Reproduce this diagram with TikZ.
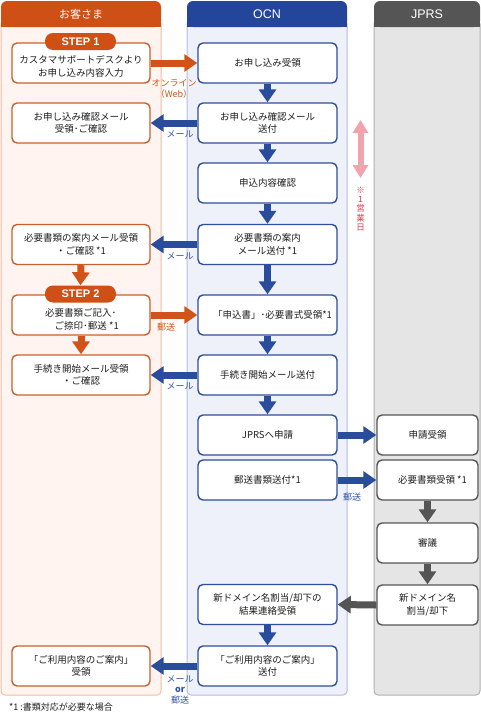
\documentclass[tikz,border=0pt]{standalone}
\usepackage{fontspec}
\setmainfont{Noto Sans CJK JP}
\newfontfamily\latinfont{Liberation Sans}
\usetikzlibrary{arrows.meta}
\definecolor{cOr}{HTML}{CF5016}
\definecolor{cLfill}{HTML}{FFF4EF}
\definecolor{cLborder}{HTML}{F0BCA4}
\definecolor{cLbox}{HTML}{C8602E}
\definecolor{cOarr}{HTML}{D0541A}
\definecolor{cBl}{HTML}{23469A}
\definecolor{cOfill}{HTML}{EEF0FA}
\definecolor{cOborder}{HTML}{B4BBE0}
\definecolor{cObox}{HTML}{2F4F9C}
\definecolor{cBarr}{HTML}{2A4C9C}
\definecolor{cBtxt}{HTML}{3355A5}
\definecolor{cGr}{HTML}{555555}
\definecolor{cJfill}{HTML}{E5E5E5}
\definecolor{cJborder}{HTML}{B0B0B0}
\definecolor{cGarr}{HTML}{555555}
\definecolor{cPink}{HTML}{F2A3AB}
\definecolor{cRed}{HTML}{E8384F}
\definecolor{cTxt}{HTML}{1E1E1E}
\begin{document}
\begin{tikzpicture}[x=1pt,y=-1pt,
  box/.style={rounded corners=5pt, line width=1.4pt, fill=white, minimum height=40pt, inner sep=0pt, align=center, font=\fontsize{9.5}{12.5}\selectfont, text=cTxt},
  lbox/.style={box, draw=cLbox, minimum width=138pt},
  obox/.style={box, draw=cObox, minimum width=139pt},
  jbox/.style={box, draw=cGr, minimum width=101pt},
  boxtxt/.style={inner sep=0pt, align=center, font=\fontsize{9.5}{13}\selectfont, text=cTxt},
  arr/.style={line width=7pt, -{Triangle[width=17pt,length=13pt]}},
  oarr/.style={arr, draw=cOarr},
  barr/.style={arr, draw=cBarr},
  garr/.style={arr, draw=cGarr},
  parr/.style={line width=6pt, draw=cPink, {Triangle[width=15pt,length=13pt]}-{Triangle[width=15pt,length=13pt]}},
  lab/.style={font=\fontsize{9}{10.5}\selectfont, inner sep=0pt, align=center},
  hdr/.style={text=white, font=\latinfont\fontsize{12.5}{14}\selectfont, inner sep=0pt},
  steppill/.style={fill=cOr, rounded corners=8pt, minimum width=71pt, minimum height=17pt, inner sep=0pt, text=white, font=\latinfont\bfseries\fontsize{11}{13}\selectfont}
]
\useasboundingbox (0,0) rectangle (481,720);
\fill[white] (0,0) rectangle (481,720);

% columns
\path[fill=cLfill, draw=cLborder, line width=1pt, rounded corners=4pt] (1,20) -- (1,695) -- (161,695) -- (161,20) -- cycle;
\fill[cOr, rounded corners=6pt] (1,1) rectangle (161,27);
\fill[cOr] (1,15) rectangle (161,27);
\path[fill=cOfill, draw=cOborder, line width=1pt, rounded corners=4pt] (187,20) -- (187,695) -- (347,695) -- (347,20) -- cycle;
\fill[cBl, rounded corners=6pt] (187,1) rectangle (347,27);
\fill[cBl] (187,15) rectangle (347,27);
\path[fill=cJfill, draw=cJborder, line width=1pt, rounded corners=4pt] (374,20) -- (374,695) -- (480,695) -- (480,20) -- cycle;
\fill[cGr, rounded corners=6pt] (374,1) rectangle (480,27);
\fill[cGr] (374,15) rectangle (480,27);

\node[hdr, font=\fontsize{11}{13}\selectfont] (h1) at (81,14) {お客さま};
\node[hdr] (h2) at (267,14) {OCN};
\node[hdr] (h3) at (427,14) {JPRS};

% left boxes
\node[lbox] (l1) at (81,63) {};
\node[boxtxt] (l1t) at (81,66) {カスタマサポートデスクより\\お申し込み内容入力};
\node[lbox] (l2) at (81,123) {お申し込み確認メール\\受領･ご確認};
\node[lbox] (l3) at (81,244.5) {必要書類の案内メール受領\\・ご確認 *1};
\node[lbox] (l4) at (81,315) {};
\node[boxtxt, align=left] (l4t) at (82,319.5) {必要書類ご記入･\\\hspace*{9.5pt}ご捺印･郵送 *1};
\node[lbox] (l5) at (81,375) {手続き開始メール受領\\・ご確認};
\node[lbox] (l6) at (81,666) {「ご利用内容のご案内」\\受領};

% OCN boxes
\node[obox] (o1) at (267.5,63) {お申し込み受領};
\node[obox] (o2) at (267.5,123) {お申し込み確認メール\\送付};
\node[obox] (o3) at (267.5,183) {申込内容確認};
\node[obox] (o4) at (267.5,244.5) {必要書類の案内\\メール送付 *1};
\node[obox] (o5) at (267.5,315) {\hspace*{10pt}「申込書」･必要書式受領*1};
\node[obox] (o6) at (267.5,375) {手続き開始メール送付};
\node[obox] (o7) at (267.5,435) {JPRSへ申請};
\node[obox] (o8) at (267.5,480) {郵送書類送付*1};
\node[obox] (o9) at (267.5,604.5) {新ドメイン名割当/却下の\\結果連絡受領};
\node[obox] (o10) at (267.5,666) {「ご利用内容のご案内」\\送付};

% JPRS boxes
\node[jbox] (j1) at (427.5,435) {申請受領};
\node[jbox] (j2) at (427.5,480) {\hspace*{10pt}必要書類受領 *1};
\node[jbox] (j3) at (427.5,543) {審議};
\node[jbox] (j4) at (427.5,605) {新ドメイン名\\割当/却下};

% step pills
\node[steppill] (s1) at (80.5,41.5) {STEP 1};
\node[steppill] (s2) at (80.5,294) {STEP 2};

% arrows left column
\draw[oarr] (l3.south) -- (s2.north);
\draw[oarr] (l4.south) -- (l5.north);
% arrows OCN column
\draw[barr] (o1.south) -- (o2.north);
\draw[barr] (o2.south) -- (o3.north);
\draw[barr] (o3.south) -- (o4.north);
\draw[barr] (o4.south) -- (o5.north);
\draw[barr] (o5.south) -- (o6.north);
\draw[barr] (o6.south) -- (o7.north);
\draw[barr] (o9.south) -- (o10.north);
% arrows JPRS column
\draw[garr] (j2.south) -- (j3.north);
\draw[garr] (j3.south) -- (j4.north);
% horizontal arrows
\draw[oarr] (l1.east) -- (o1.west);
\draw[barr] (o2.west) -- (l2.east);
\draw[barr] (o4.west) -- (l3.east);
\draw[oarr] (l4.east) -- (o5.west);
\draw[barr] (o6.west) -- (l5.east);
\draw[barr] (o7.east) -- (j1.west);
\draw[barr] (o8.east) -- (j2.west);
\draw[garr] (j4.west) -- (o9.east);
\draw[barr] (o10.west) -- (l6.east);

% connector labels
\node[lab, text=cOarr] (t1) at (174,89) {オンライン\\（Web）};
\node[lab, text=cBtxt] (t2) at (180,134) {メール};
\node[lab, text=cBtxt] (t3) at (180,256) {メール};
\node[lab, text=cOarr] (t4) at (166,327) {郵送};
\node[lab, text=cBtxt] (t5) at (180,386) {メール};
\node[lab, text=cBtxt] (t6) at (352,497) {郵送};
\node[lab, text=cBtxt, font=\fontsize{9}{10.5}\selectfont] (t7) at (180,689.5) {メール\\\textbf{or}\\郵送};

% one business day marker
\coordinate (pa) at (360.5,120);
\coordinate (pb) at (360.5,178);
\draw[parr] (pa) -- (pb);
\node[lab, text=cRed, font=\fontsize{8.5}{9.2}\selectfont] (t8) at (360.5,209) {※\\1\\営\\業\\日};

% footnote
\node[lab, text=cTxt, anchor=west] (fn) at (9,707) {*1 :書類対応が必要な場合};
\end{tikzpicture}
\end{document}
